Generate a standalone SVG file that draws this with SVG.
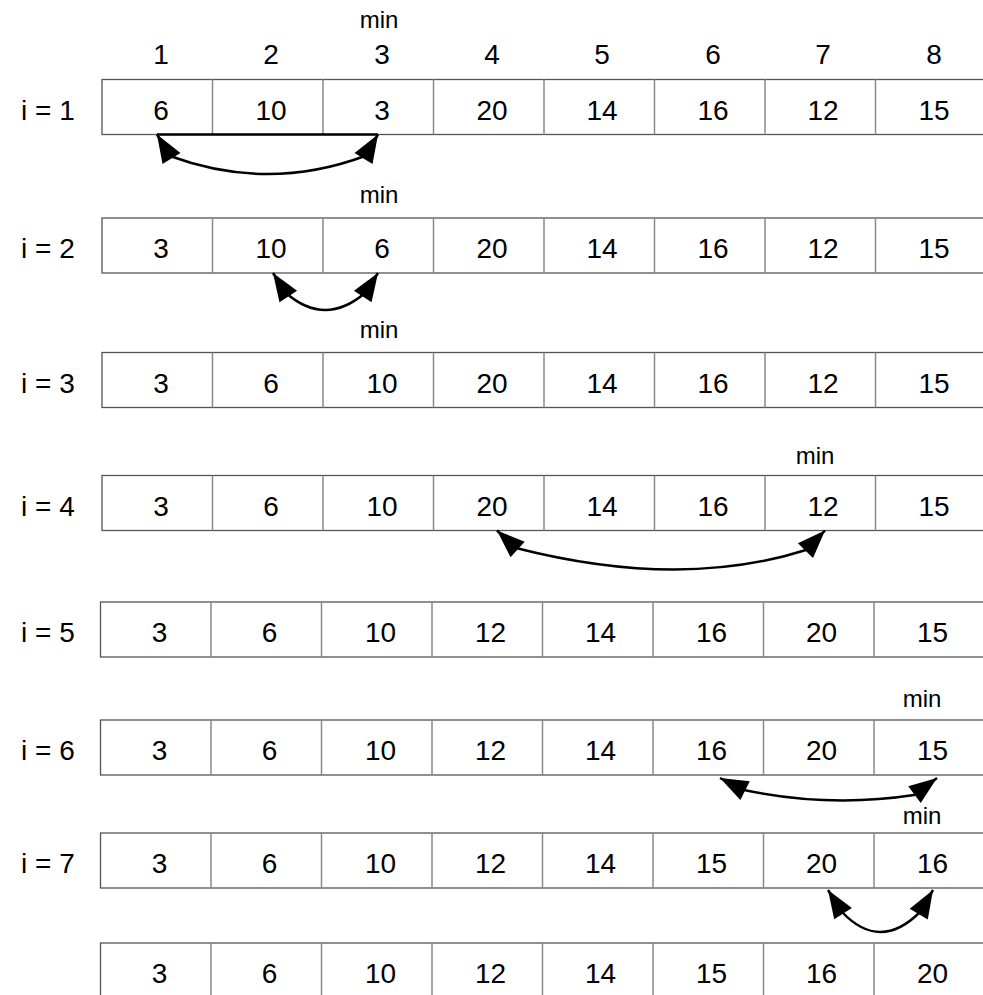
<svg xmlns="http://www.w3.org/2000/svg" width="983" height="995" viewBox="0 0 983 995">
<style>
.bx{fill:#fff;stroke:#555;stroke-width:1.3}
.dv{stroke:#888;stroke-width:1.5}
.n{font-family:"Liberation Sans",Arial,sans-serif;font-size:28px;fill:#000;text-anchor:middle}
.lb{font-family:"Liberation Sans",Arial,sans-serif;font-size:28px;fill:#000}
.mn{font-family:"Liberation Sans",Arial,sans-serif;font-size:24px;fill:#000;text-anchor:middle}
.ar{fill:none;stroke:#000;stroke-width:2.5;marker-start:url(#ah);marker-end:url(#ah)}
</style>
<defs>
<marker id="ah" markerUnits="userSpaceOnUse" viewBox="-30 -12 32 24" refX="0" refY="0" markerWidth="32" markerHeight="24" orient="auto-start-reverse">
<path d="M0,0 L-28,-10.5 L-28,10.5 Z" fill="#000"/>
</marker>
<g id="dividers">
<line class="dv" x1="110.5" y1="0" x2="110.5" y2="55"/>
<line class="dv" x1="221" y1="0" x2="221" y2="55"/>
<line class="dv" x1="331.5" y1="0" x2="331.5" y2="55"/>
<line class="dv" x1="442" y1="0" x2="442" y2="55"/>
<line class="dv" x1="552.5" y1="0" x2="552.5" y2="55"/>
<line class="dv" x1="663" y1="0" x2="663" y2="55"/>
<line class="dv" x1="773.5" y1="0" x2="773.5" y2="55"/>
</g>
</defs>
<rect width="983" height="995" fill="#fff"/>
<g id="headers">
<text class="n" x="161" y="64">1</text>
<text class="n" x="271" y="64">2</text>
<text class="n" x="382" y="64">3</text>
<text class="n" x="492" y="64">4</text>
<text class="n" x="602" y="64">5</text>
<text class="n" x="713" y="64">6</text>
<text class="n" x="823" y="64">7</text>
<text class="n" x="934" y="64">8</text>
<text class="mn" x="379" y="28">min</text>
</g>
<g id="row1" transform="translate(102,79.5)">
<rect class="bx" x="0" y="0" width="884" height="55"/>
<use href="#dividers"/>
<text class="lb" x="-81" y="40">i = 1</text>
<text class="n" x="59" y="40">6</text><text class="n" x="169" y="40">10</text><text class="n" x="280" y="40">3</text><text class="n" x="390" y="40">20</text><text class="n" x="500" y="40">14</text><text class="n" x="611" y="40">16</text><text class="n" x="721" y="40">12</text><text class="n" x="832" y="40">15</text>
</g>
<g id="row2" transform="translate(102,218)">
<rect class="bx" x="0" y="0" width="884" height="55"/>
<use href="#dividers"/>
<text class="lb" x="-81" y="40">i = 2</text>
<text class="mn" x="277" y="-15">min</text>
<text class="n" x="59" y="40">3</text><text class="n" x="169" y="40">10</text><text class="n" x="280" y="40">6</text><text class="n" x="390" y="40">20</text><text class="n" x="500" y="40">14</text><text class="n" x="611" y="40">16</text><text class="n" x="721" y="40">12</text><text class="n" x="832" y="40">15</text>
</g>
<g id="row3" transform="translate(102,352.5)">
<rect class="bx" x="0" y="0" width="884" height="55"/>
<use href="#dividers"/>
<text class="lb" x="-81" y="40">i = 3</text>
<text class="mn" x="277" y="-15">min</text>
<text class="n" x="59" y="40">3</text><text class="n" x="169" y="40">6</text><text class="n" x="280" y="40">10</text><text class="n" x="390" y="40">20</text><text class="n" x="500" y="40">14</text><text class="n" x="611" y="40">16</text><text class="n" x="721" y="40">12</text><text class="n" x="832" y="40">15</text>
</g>
<g id="row4" transform="translate(102,475.5)">
<rect class="bx" x="0" y="0" width="884" height="55"/>
<use href="#dividers"/>
<text class="lb" x="-81" y="40">i = 4</text>
<text class="mn" x="713" y="-12">min</text>
<text class="n" x="59" y="40">3</text><text class="n" x="169" y="40">6</text><text class="n" x="280" y="40">10</text><text class="n" x="390" y="40">20</text><text class="n" x="500" y="40">14</text><text class="n" x="611" y="40">16</text><text class="n" x="721" y="40">12</text><text class="n" x="832" y="40">15</text>
</g>
<g id="row5" transform="translate(100.5,602)">
<rect class="bx" x="0" y="0" width="884" height="55"/>
<use href="#dividers"/>
<text class="lb" x="-79.5" y="40">i = 5</text>
<text class="n" x="59" y="40">3</text><text class="n" x="169" y="40">6</text><text class="n" x="280" y="40">10</text><text class="n" x="390" y="40">12</text><text class="n" x="500" y="40">14</text><text class="n" x="611" y="40">16</text><text class="n" x="721" y="40">20</text><text class="n" x="832" y="40">15</text>
</g>
<g id="row6" transform="translate(100.5,720)">
<rect class="bx" x="0" y="0" width="884" height="55"/>
<use href="#dividers"/>
<text class="lb" x="-79.5" y="40">i = 6</text>
<text class="mn" x="821.5" y="-13">min</text>
<text class="n" x="59" y="40">3</text><text class="n" x="169" y="40">6</text><text class="n" x="280" y="40">10</text><text class="n" x="390" y="40">12</text><text class="n" x="500" y="40">14</text><text class="n" x="611" y="40">16</text><text class="n" x="721" y="40">20</text><text class="n" x="832" y="40">15</text>
</g>
<g id="row7" transform="translate(100.5,833)">
<rect class="bx" x="0" y="0" width="884" height="55"/>
<use href="#dividers"/>
<text class="lb" x="-79.5" y="40">i = 7</text>
<text class="mn" x="821.5" y="-9">min</text>
<text class="n" x="59" y="40">3</text><text class="n" x="169" y="40">6</text><text class="n" x="280" y="40">10</text><text class="n" x="390" y="40">12</text><text class="n" x="500" y="40">14</text><text class="n" x="611" y="40">15</text><text class="n" x="721" y="40">20</text><text class="n" x="832" y="40">16</text>
</g>
<g id="row8" transform="translate(100.5,943)">
<rect class="bx" x="0" y="0" width="884" height="60"/>
<use href="#dividers"/>
<text class="n" x="59" y="40">3</text><text class="n" x="169" y="40">6</text><text class="n" x="280" y="40">10</text><text class="n" x="390" y="40">12</text><text class="n" x="500" y="40">14</text><text class="n" x="611" y="40">15</text><text class="n" x="721" y="40">16</text><text class="n" x="832" y="40">20</text>
</g>
<g id="connectors">
<line x1="157" y1="134.5" x2="378" y2="134.5" stroke="#000" stroke-width="2.5"/>
<path class="ar" d="M157,134.5 L170,156 Q268,192 365,156 L378,134.5"/>
<path class="ar" d="M273,273 L286,293 Q325,327 365,293 L378,273"/>
<path class="ar" d="M497,530.5 L516,548 Q680,590 806,550 L825,530.5"/>
<path class="ar" d="M720,778 L744,790 Q830,808 914,795 L937,778"/>
<path class="ar" d="M828,890 L842,912 Q880,952 920,912 L933,890"/>
</g>
</svg>
